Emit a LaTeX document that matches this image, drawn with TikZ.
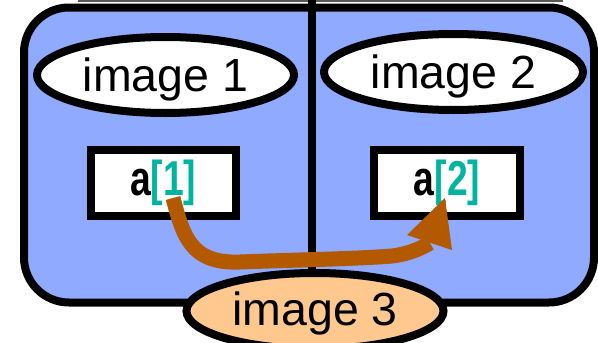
\documentclass[tikz,border=0pt]{standalone}
\usepackage{fontspec}
\setmainfont{Liberation Sans}
\usetikzlibrary{shapes.geometric}
\definecolor{panelblue}{RGB}{143,170,255}
\definecolor{peach}{RGB}{255,200,143}
\definecolor{tealidx}{RGB}{0,180,160}
\definecolor{arrowbrown}{RGB}{179,90,0}
\tikzset{
  frame/.style={line width=8pt, draw=black},
  imgell/.style={ellipse, draw=black, line width=8pt, inner sep=0pt,
    minimum width=257pt, minimum height=76pt, font=\fontsize{46.5}{46.5}\selectfont},
  varbox/.style={rectangle, draw=black, line width=8pt, fill=white, inner sep=0pt,
    minimum height=66pt, font=\bfseries\fontsize{49}{49}\selectfont},
  shaft/.style={line width=15pt, draw=arrowbrown, line cap=butt},
  headtip/.style={fill=arrowbrown, draw=none}
}
\newcommand{\narrowtxt}[1]{\scalebox{0.76}[1]{#1}}
\begin{document}
\begin{tikzpicture}[x=1pt,y=-1pt]
\useasboundingbox (0,0) rectangle (598,343);
\clip (0,0) rectangle (598,343);
% thin line at top
\coordinate (tl) at (78,1);
\coordinate (tr) at (563,1);
\draw[line width=1.5pt, black!65] (tl) -- (tr);
% outer rounded panel
\draw[frame, fill=panelblue, rounded corners=45pt] (24,7.5) rectangle (594,302.5);
% divider
\coordinate (dtop) at (312,0);
\coordinate (dbot) at (312,273);
\draw[frame] (dtop) -- (dbot);
% image ellipses
\node[imgell, fill=white, text height=33.5pt, text depth=0pt] (img1) at (165.5,75) {image 1};
\node[imgell, fill=white, text height=33.5pt, text depth=0pt, minimum width=259pt] (img2) at (453.5,72) {image 2};
% variable boxes
\node[varbox, minimum width=144.5pt] (a1) at (163.25,182.5) {\narrowtxt{a\textcolor{tealidx}{[1]}}};
\node[varbox, minimum width=146pt] (a2) at (447,182.5) {\narrowtxt{a\textcolor{tealidx}{[2]}}};
% arrow
\coordinate (s) at (173,198);
\coordinate (b) at (430,243);
\coordinate (t) at (445,198);
\coordinate (hl) at (407,235);
\coordinate (hr) at (452,250);
\draw[shaft] (s) .. controls (183,235) and (190,264) .. (240,262)
  .. controls (290,260) and (355,259) .. (392,256)
  .. controls (408,254) and (420,249) .. (b);
\fill[headtip] (t) -- (hl) -- (hr) -- cycle;
% image 3
\node[imgell, fill=peach, text height=28pt, text depth=0pt] (img3) at (315,311) {image 3};
\end{tikzpicture}
\end{document}
